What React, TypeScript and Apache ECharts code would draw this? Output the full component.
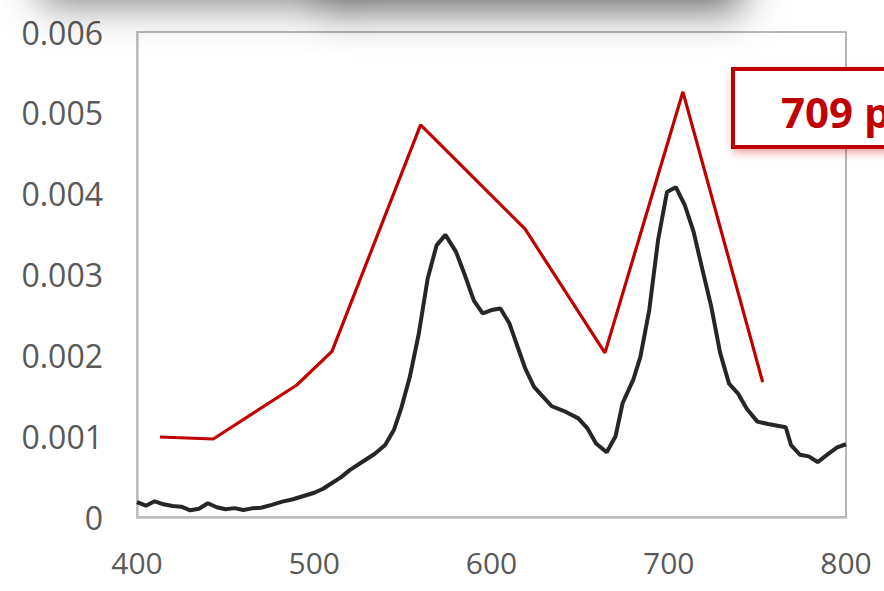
import React, { useEffect, useRef } from "react";
import * as echarts from "echarts";

// Black spectrum: wavelength (nm) / absorbance
const blackX = [400, 405, 410, 415, 420, 425, 430, 435, 440, 445, 450, 455, 460, 465, 470, 476, 482, 488, 494, 500, 505, 510, 515, 520, 527, 534, 540, 545, 549, 554, 559, 564, 569, 574, 580, 585, 590, 595, 600, 605, 610, 614, 619, 624, 629, 634, 642, 649, 654, 659, 665, 670, 674, 680, 684, 689, 694, 699, 704, 709, 714, 719, 724, 729, 734, 739, 744, 750, 756, 766, 769, 774, 779, 784, 790, 795, 800];
const blackY = [0.000185, 0.00014, 0.000194, 0.000157, 0.000136, 0.000128, 0.000083, 0.000103, 0.00017, 0.00012, 0.000095, 0.00011, 0.000087, 0.000107, 0.000115, 0.00015, 0.00019, 0.00022, 0.00026, 0.0003, 0.00035, 0.00042, 0.00049, 0.00058, 0.00068, 0.00078, 0.00089, 0.00108, 0.00134, 0.00174, 0.00227, 0.00295, 0.00336, 0.00349, 0.00328, 0.00299, 0.00268, 0.00252, 0.00256, 0.00258, 0.0024, 0.00215, 0.00184, 0.00161, 0.00149, 0.00137, 0.0013, 0.00122, 0.0011, 0.00091, 0.0008, 0.001, 0.00141, 0.0017, 0.00198, 0.00256, 0.00343, 0.00402, 0.00408, 0.00386, 0.00353, 0.00306, 0.0026, 0.00203, 0.00165, 0.00153, 0.00134, 0.00118, 0.00115, 0.00111, 0.00089, 0.00077, 0.00075, 0.00068, 0.00078, 0.00086, 0.0009];

// Red series
const redX = [413, 443, 490, 510, 560, 619, 664, 708, 753];
const redY = [0.00099, 0.000965, 0.00163, 0.00205, 0.00485, 0.00356, 0.00203, 0.00526, 0.00167];

const calloutText = "709 p";

export default function App() {
  const ref = useRef<HTMLDivElement>(null);
  useEffect(() => {
    if (!ref.current) return;
    const chart = echarts.init(ref.current, null, { renderer: "svg" });
    const labelFont = { fontFamily: "Open Sans", color: "#595959" };
    chart.setOption({
      animation: false,
      backgroundColor: "#ffffff",
      grid: {
        left: 137, right: 38, top: 32, bottom: 74,
        show: true, borderColor: "#a0a0a0", borderWidth: 1.5, backgroundColor: "transparent",
      },
      xAxis: {
        type: "value", min: 400, max: 800, interval: 100,
        axisLine: { show: true, lineStyle: { color: "#bfbfbf", width: 2.5 } },
        axisTick: { show: false },
        splitLine: { show: false },
        axisLabel: { ...labelFont, fontSize: 30, margin: 30 },
      },
      yAxis: {
        type: "value", min: 0, max: 0.006, interval: 0.001,
        axisLine: { show: true, lineStyle: { color: "#bfbfbf", width: 2.5 } },
        axisTick: { show: false },
        splitLine: { show: false },
        axisLabel: {
          ...labelFont, fontSize: 32, margin: 34,
          formatter: (v: number) => (v === 0 ? "0" : v.toFixed(3)),
        },
      },
      series: [
        {
          type: "line", symbol: "none", z: 3,
          data: blackX.map((x, i) => [x, blackY[i]]),
          lineStyle: { color: "#262626", width: 4 },
        },
        {
          type: "line", symbol: "none", z: 3,
          data: redX.map((x, i) => [x, redY[i]]),
          lineStyle: { color: "#c00000", width: 3.2 },
        },
      ],
      graphic: [
        {
          type: "rect", z: 50, silent: true,
          shape: { x: 40, y: -80, width: 300, height: 72 },
          style: { fill: "#d0d0d0", shadowBlur: 40, shadowColor: "rgba(0,0,0,0.5)", shadowOffsetY: 12 },
        },
        {
          type: "rect", z: 51, silent: true,
          shape: { x: 326, y: -80, width: 416, height: 80 },
          style: { fill: "#8c8c8c", shadowBlur: 40, shadowColor: "rgba(0,0,0,0.6)", shadowOffsetY: 10 },
        },
        {
          type: "rect", z: 100, silent: true,
          shape: { x: 733, y: 69, width: 200, height: 78 },
          style: {
            fill: "#ffffff", stroke: "#c00000", lineWidth: 4,
            shadowBlur: 8, shadowColor: "rgba(192,0,0,0.35)", shadowOffsetY: 4, shadowOffsetX: 2,
          },
        },
        {
          type: "text", z: 101, silent: true,
          x: 781, y: 111,
          style: {
            text: calloutText, fill: "#c00000",
            font: "bold 42px 'Open Sans'", verticalAlign: "middle", align: "left",
          },
        },
      ],
    });
    return () => chart.dispose();
  }, []);
  return (
    <div
      ref={ref}
      style={{ position: "absolute", left: 0, top: 0, width: 884, height: 591 }}
    />
  );
}
